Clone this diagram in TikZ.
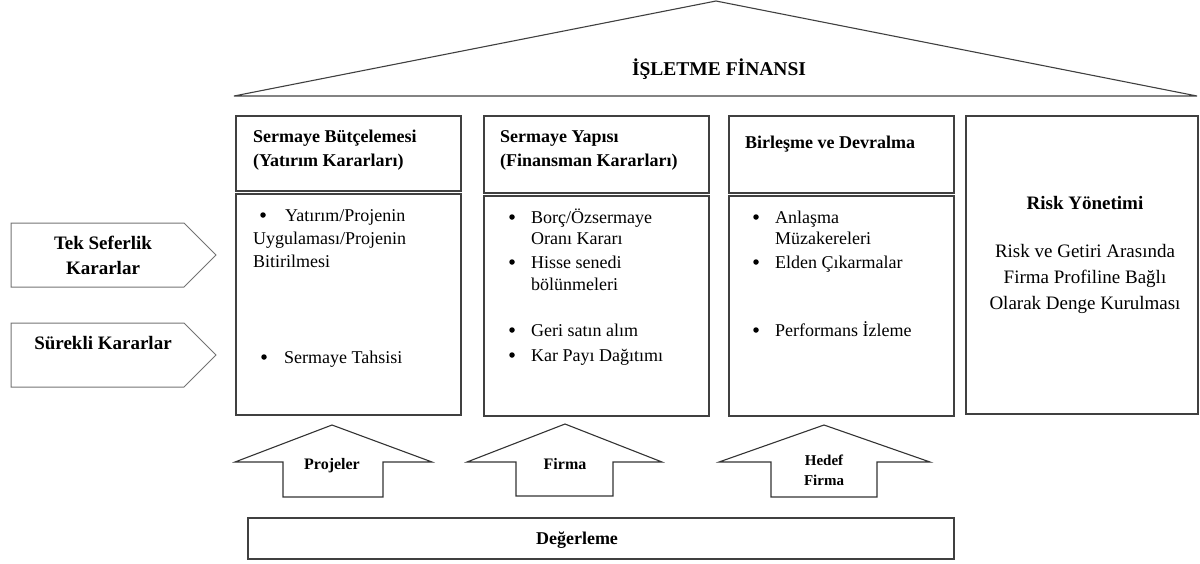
\documentclass[tikz,border=0pt]{standalone}
\usepackage{fontspec}
\setmainfont{Liberation Serif}
\begin{document}
\begin{tikzpicture}[x=1pt,y=-1pt,
  box/.style={draw=black!75,line width=1.3pt},
  sidearrow/.style={draw=black!55,line width=1pt},
  uparrow/.style={draw=black!80,line width=1.1pt},
  txt/.style={inner sep=0pt,anchor=base west,font=\fontsize{18}{23}\selectfont},
  ctxt/.style={inner sep=0pt,anchor=base,font=\fontsize{19}{23}\selectfont},
  btxt/.style={inner sep=0pt,anchor=base west,font=\fontsize{18}{23}\selectfont\bfseries},
  cbtxt/.style={inner sep=0pt,anchor=base,font=\fontsize{19}{23}\selectfont\bfseries},
  bul/.style={circle,fill=black,inner sep=0pt,minimum size=5.5pt}
]
\useasboundingbox (0,0) rectangle (1200,563);

% roof
\draw[box,line width=1.1pt] (234,96) -- (716,1) -- (1197,96) -- cycle;
\node[inner sep=0pt,anchor=base,font=\fontsize{19.5}{22}\selectfont\bfseries] (roof) at (719,75) {İŞLETME FİNANSI};

% left arrows
\draw[sidearrow] (11,223) -- (184,223) -- (216,255) -- (184,287) -- (11,287) -- cycle;
\node[cbtxt] (tek1) at (103,249) {Tek Seferlik};
\node[cbtxt] (tek2) at (103,274) {Kararlar};
\draw[sidearrow] (11,323) -- (184,323) -- (216,355) -- (184,387) -- (11,387) -- cycle;
\node[cbtxt] (sur) at (103,349) {Sürekli Kararlar};

% column 1
\draw[box] (236,116) rectangle (461,191);
\draw[box] (236,194) rectangle (461,415);
\node[btxt] (h1a) at (253,142) {Sermaye Bütçelemesi};
\node[btxt] (h1b) at (253,166) {(Yatırım Kararları)};
\node[bul] (b11) at (263,215) {};
\node[txt] (t11) at (285,221) {Yatırım/Projenin};
\node[txt] (t12) at (253,244) {Uygulaması/Projenin};
\node[txt] (t13) at (253,267) {Bitirilmesi};
\node[bul] (b12) at (264,357) {};
\node[txt] (t14) at (284,363) {Sermaye Tahsisi};

% column 2
\draw[box] (484,116) rectangle (709,193);
\draw[box] (484,196) rectangle (709,416);
\node[btxt] (h2a) at (500,142) {Sermaye Yapısı};
\node[btxt] (h2b) at (500,166) {(Finansman Kararları)};
\node[bul] (b21) at (512,217) {};
\node[txt] (t21) at (531,223) {Borç/Özsermaye};
\node[txt] (t22) at (531,244) {Oranı Kararı};
\node[bul] (b22) at (512,262) {};
\node[txt] (t23) at (531,268) {Hisse senedi};
\node[txt] (t24) at (531,290) {bölünmeleri};
\node[bul] (b23) at (512,330) {};
\node[txt] (t25) at (531,336) {Geri satın alım};
\node[bul] (b24) at (512,355) {};
\node[txt] (t26) at (531,361) {Kar Payı Dağıtımı};

% column 3
\draw[box] (729,116) rectangle (954,193);
\draw[box] (729,196) rectangle (954,416);
\node[btxt] (h3) at (745,148) {Birleşme ve Devralma};
\node[bul] (b31) at (756,217) {};
\node[txt] (t31) at (775,223) {Anlaşma};
\node[txt] (t32) at (775,244) {Müzakereleri};
\node[bul] (b32) at (756,262) {};
\node[txt] (t33) at (775,268) {Elden Çıkarmalar};
\node[bul] (b33) at (756,330) {};
\node[txt] (t34) at (775,336) {Performans İzleme};

% risk column
\draw[box] (966,116) rectangle (1198,414);
\node[cbtxt] (rh) at (1085,209) {Risk Yönetimi};
\node[ctxt] (r1) at (1085,257) {Risk ve Getiri Arasında};
\node[ctxt] (r2) at (1085,283) {Firma Profiline Bağlı};
\node[ctxt] (r3) at (1085,309) {Olarak Denge Kurulması};

% up arrows
\draw[uparrow] (332,425) -- (432,462) -- (383,462) -- (383,497) -- (283,497) -- (283,462) -- (235,462) -- cycle;
\node[cbtxt,font=\fontsize{16}{20}\selectfont\bfseries] (proj) at (332,469) {Projeler};
\draw[uparrow] (565,424) -- (662,462) -- (613,462) -- (613,496) -- (516,496) -- (516,462) -- (467,462) -- cycle;
\node[cbtxt,font=\fontsize{16}{20}\selectfont\bfseries] (firma) at (565,469) {Firma};
\draw[uparrow] (824,425) -- (930,462) -- (877,462) -- (877,497) -- (771,497) -- (771,462) -- (719,462) -- cycle;
\node[cbtxt,font=\fontsize{15}{18}\selectfont\bfseries] (hedef1) at (824,465) {Hedef};
\node[cbtxt,font=\fontsize{15}{18}\selectfont\bfseries] (hedef2) at (824,485) {Firma};

% valuation
\draw[box] (248,518) rectangle (954,559);
\node[cbtxt,font=\fontsize{18}{20}\selectfont\bfseries] (deg) at (577,544) {Değerleme};
\end{tikzpicture}
\end{document}
